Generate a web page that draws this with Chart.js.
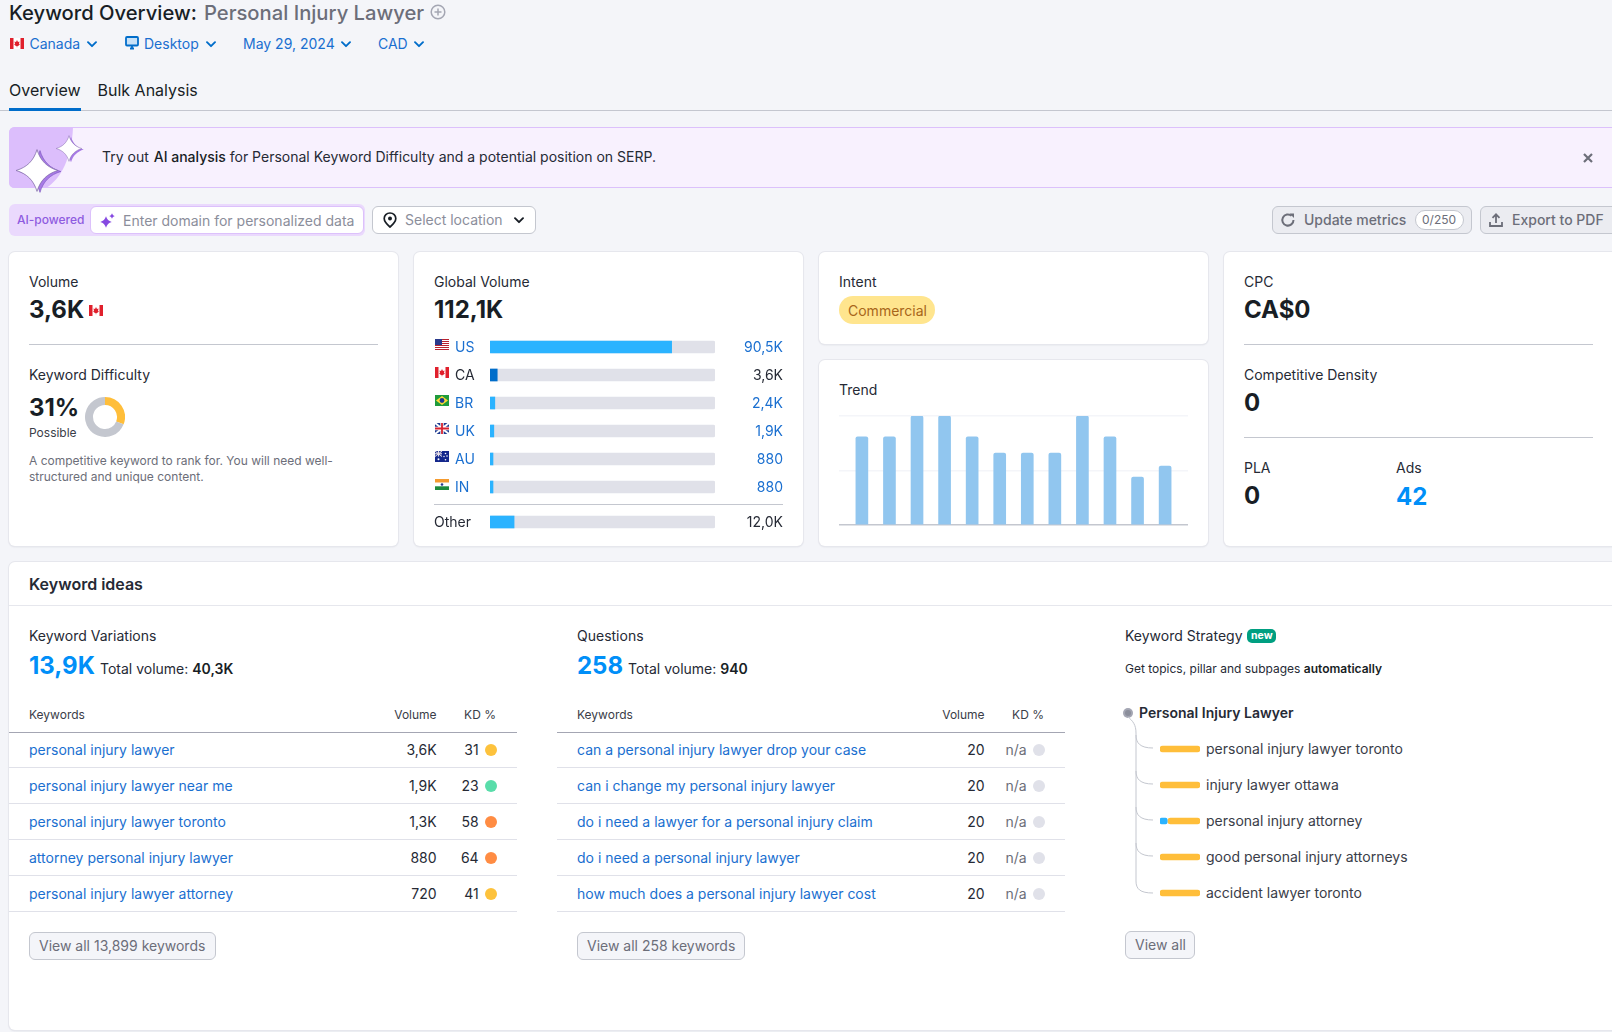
<!DOCTYPE html>
<html>
<head>
<meta charset="utf-8">
<title>Keyword Overview</title>
<script src="https://cdn.jsdelivr.net/npm/chart.js@4"></script>
<style>
html, body { margin: 0; padding: 0; width: 1612px; height: 1032px; overflow: hidden; background: #f4f5f9; }
body { position: relative; font-family: Inter, "Noto Sans", sans-serif; font-size: 14px; color: #262a35; }
.t { position: absolute; white-space: nowrap; line-height: 20px; }
.box { position: absolute; box-sizing: border-box; }
canvas { position: absolute; display: block; }
svg { position: absolute; overflow: visible; }
.link { color: #1a6fd0; }
.gray { color: #6c6e79; }
.big { font-size: 24px; font-weight: 700; line-height: 30px; color: #181e25; }
.card { position: absolute; box-sizing: border-box; background: #fff; border-radius: 6px; box-shadow: 0 0 0 1px #e6e7ed, 0 1px 2px rgba(25,30,60,.12); }
.rule { position: absolute; height: 1px; background: #c4c7cf; }
.btn { position: absolute; box-sizing: border-box; height: 28px; line-height: 26px; border: 1px solid #c4c7cf; border-radius: 6px; background: #f4f5f9; color: #6c6e79; white-space: nowrap; }
.btn.dark { background: #ebecf1; }
.dot { position: absolute; width: 12px; height: 12px; border-radius: 50%; }
</style>
</head>
<body>
<svg width="0" height="0" style="position:absolute">
  <defs>
    <symbol id="chev" viewBox="0 0 10 7"><path d="M1 1.2 L5 5.2 L9 1.2" fill="none" stroke="currentColor" stroke-width="1.9" stroke-linecap="round" stroke-linejoin="round"/></symbol>
    <symbol id="star" viewBox="0 0 40 40"><path d="M20 1 C23 11 29 17 39 20 C29 23 23 29 20 39 C17 29 11 23 1 20 C11 17 17 11 20 1 Z"/></symbol>
  </defs>
</svg>

<!-- header -->
<div class="t" style="left:9px;top:1px;font-size:20.2px;font-weight:500;line-height:24px;color:#181e25">Keyword Overview:</div>
<div class="t gray" style="left:204px;top:1px;font-size:20.2px;font-weight:500;line-height:24px">Personal Injury Lawyer</div>
<svg style="left:430px;top:4px" width="16" height="16"><circle cx="8" cy="8" r="6.8" fill="none" stroke="#a4a6b3" stroke-width="1.5"/><path d="M8 4.5V11.5M4.5 8H11.5" stroke="#a4a6b3" stroke-width="1.5"/></svg>

<div id="filterFlag"></div>
<div class="t link" style="left:29.5px;top:34px">Canada</div>
<svg style="left:87px;top:41px;color:#006dca" width="10" height="7"><use href="#chev"/></svg>
<svg style="left:125px;top:36px" width="14" height="14"><rect x="1" y="1" width="12" height="8.5" rx="1" fill="#c8e1f7" stroke="#006dca" stroke-width="1.8"/><path d="M5 12.5H9M7 10V12.5" stroke="#006dca" stroke-width="1.8"/></svg>
<div class="t link" style="left:144px;top:34px">Desktop</div>
<svg style="left:206px;top:41px;color:#006dca" width="10" height="7"><use href="#chev"/></svg>
<div class="t link" style="left:243px;top:34px">May 29, 2024</div>
<svg style="left:341px;top:41px;color:#006dca" width="10" height="7"><use href="#chev"/></svg>
<div class="t link" style="left:378px;top:34px">CAD</div>
<svg style="left:414px;top:41px;color:#006dca" width="10" height="7"><use href="#chev"/></svg>

<div class="t" style="left:9px;top:80px;font-size:16px;color:#181e25">Overview</div>
<div class="t" style="left:97.5px;top:80px;font-size:16px;color:#181e25">Bulk Analysis</div>
<div class="box" style="left:0;top:110px;width:1612px;height:1px;background:#c4c7cf"></div>
<div class="box" style="left:9px;top:108px;width:72px;height:3px;background:#006dca"></div>

<!-- banner -->
<div class="box" style="left:9px;top:127px;width:1620px;height:61px;background:#f8f1fe;border:1px solid #dcc1fb;border-radius:6px"></div>
<svg style="left:9px;top:127px" width="64" height="61"><path d="M6 0 H64 C63 30 52 52 37 61 H6 Q0 61 0 55 V6 Q0 0 6 0 Z" fill="#dcbefc"/></svg>
<svg style="left:18px;top:148px;fill:#a77ae6;stroke:#6f4cb5;stroke-width:.5" width="44" height="47"><use href="#star" width="44" height="47"/></svg>
<svg style="left:15px;top:147px;fill:#fff;stroke:#7f6aa8;stroke-width:.7" width="44" height="47"><use href="#star" width="44" height="47"/></svg>
<svg style="left:57px;top:136px;fill:#a77ae6" width="28" height="27"><use href="#star" width="28" height="27"/></svg>
<svg style="left:55px;top:135px;fill:#fff;stroke:#7f6aa8;stroke-width:.7" width="28" height="27"><use href="#star" width="28" height="27"/></svg>
<div class="t" style="left:102px;top:147px">Try out <span style="font-weight:500;margin-left:1px;color:#181e25">AI analysis</span> for Personal Keyword Difficulty and a potential position on SERP.</div>
<svg style="left:1583px;top:153px" width="10" height="10"><path d="M1 1L9 9M9 1L1 9" stroke="#6c6e79" stroke-width="2.2"/></svg>

<!-- AI input row -->
<div class="box" style="left:9px;top:204px;width:356px;height:32px;background:#ead9fd;border-radius:6px"></div>
<div class="t" style="left:17px;top:210px;font-size:12px;font-weight:500;color:#8e5be0">AI-powered</div>
<div class="box" style="left:90px;top:206px;width:274px;height:28px;background:#fff;border:1px solid #dcc1fb;border-radius:6px"></div>
<svg style="left:100px;top:213px;fill:#8649e1" width="16" height="16"><use href="#star" x="0" y="3" width="12" height="12"/><use href="#star" x="9" y="0" width="6" height="6"/></svg>
<div class="t" style="left:123px;top:211px;color:#8b8e9b">Enter domain for personalized data</div>
<div class="box" style="left:372px;top:206px;width:164px;height:28px;background:#fff;border:1px solid #c4c7cf;border-radius:6px"></div>
<svg style="left:383px;top:212px" width="14" height="16"><path d="M7 1C3.6 1 1.2 3.5 1.2 6.5C1.2 10 7 15 7 15C7 15 12.8 10 12.8 6.5C12.8 3.5 10.4 1 7 1Z" fill="none" stroke="#181e25" stroke-width="1.7"/><circle cx="7" cy="6.5" r="2" fill="#181e25"/></svg>
<div class="t" style="left:405px;top:210px;color:#8b8e9b">Select location</div>
<svg style="left:514px;top:217px;color:#181e25" width="10" height="7"><use href="#chev"/></svg>

<div class="btn dark" style="left:1272px;top:206px;width:200px"></div>
<svg style="left:1281px;top:213px" width="14" height="14"><path d="M12.5 7A5.6 5.6 0 1 1 10.6 2.8" fill="none" stroke="#6c6e79" stroke-width="2"/><path d="M8.5 0.5H13V5Z" fill="#6c6e79"/></svg>
<div class="t gray" style="left:1304px;top:210px;font-weight:500">Update metrics</div>
<div class="box" style="left:1415px;top:210px;width:49px;height:20px;background:#fff;border:1px solid #c4c7cf;border-radius:10px"></div>
<div class="t gray" style="left:1422px;top:210px;font-size:12px">0/250</div>
<div class="btn dark" style="left:1480px;top:206px;width:150px"></div>
<svg style="left:1489px;top:213px" width="14" height="14"><path d="M7 10V1.5M3.5 4.8L7 1.3L10.5 4.8M1 9V13H13V9" fill="none" stroke="#6c6e79" stroke-width="1.8"/></svg>
<div class="t gray" style="left:1512px;top:210px;font-weight:500">Export to PDF</div>

<!-- volume card -->
<div class="card" style="left:9px;top:252px;width:389px;height:294px"></div>
<div class="t" style="left:29px;top:272px">Volume</div>
<div class="t big" style="left:29px;top:295px">3,6K</div>
<div id="volumeFlag"></div>
<div class="rule" style="left:29px;top:344px;width:349px"></div>
<div class="t" style="left:29px;top:365px">Keyword Difficulty</div>
<div class="t big" style="left:29px;top:393px">31%</div>
<div class="t" style="left:29px;top:423px;font-size:12px;color:#3a3d48">Possible</div>
<canvas id="kdChart" width="40" height="40" style="left:85px;top:397px"></canvas>
<div class="t gray" style="left:29px;top:451px;font-size:12px">A competitive keyword to rank for. You will need well-</div>
<div class="t gray" style="left:29px;top:467px;font-size:12px">structured and unique content.</div>

<!-- global volume card -->
<div class="card" style="left:414px;top:252px;width:389px;height:294px"></div>
<div class="t" style="left:434px;top:272px">Global Volume</div>
<div class="t big" style="left:434px;top:295px">112,1K</div>
<div id="countryFlags"></div>
<canvas id="countryChart" width="328" height="168" style="left:455px;top:333px"></canvas>
<div class="rule" style="left:434px;top:504px;width:349px"></div>
<canvas id="otherChart" width="349" height="28" style="left:434px;top:508px"></canvas>

<!-- intent card -->
<div class="card" style="left:819px;top:252px;width:389px;height:92px"></div>
<div class="t" style="left:839px;top:272px">Intent</div>
<div class="box" style="left:839px;top:296px;width:96px;height:28px;background:#ffe58e;border-radius:14px"></div>
<div class="t" style="left:848px;top:301px;color:#a8651a">Commercial</div>

<!-- trend card -->
<div class="card" style="left:819px;top:360px;width:389px;height:186px"></div>
<div class="t" style="left:839px;top:380px">Trend</div>
<canvas id="trendChart" width="349" height="116" style="left:839px;top:412px"></canvas>

<!-- cpc card -->
<div class="card" style="left:1224px;top:252px;width:400px;height:294px"></div>
<div class="t" style="left:1244px;top:272px">CPC</div>
<div class="t big" style="left:1244px;top:295px">CA$0</div>
<div class="rule" style="left:1244px;top:344px;width:349px"></div>
<div class="t" style="left:1244px;top:365px">Competitive Density</div>
<div class="t big" style="left:1244px;top:388px">0</div>
<div class="rule" style="left:1244px;top:437px;width:349px"></div>
<div class="t" style="left:1244px;top:458px">PLA</div>
<div class="t big" style="left:1244px;top:481px">0</div>
<div class="t" style="left:1396px;top:458px">Ads</div>
<div class="t big" style="left:1396px;top:482px;color:#008ff8">42</div>

<!-- keyword ideas card -->
<div class="card" style="left:9px;top:562px;width:1620px;height:468px"></div>
<div class="t" style="left:29px;top:574px;font-size:16px;font-weight:600">Keyword ideas</div>
<div class="box" style="left:9px;top:605px;width:1603px;height:1px;background:#e6e7ed"></div>

<div class="t" style="left:29px;top:626px">Keyword Variations</div>
<div class="t big" style="left:29px;top:651px;color:#008ff8">13,9K</div>
<div class="t" style="left:100px;top:659px">Total volume: <b style="font-weight:600;color:#181e25">40,3K</b></div>

<div class="t" style="left:577px;top:626px">Questions</div>
<div class="t big" style="left:577px;top:651px;color:#008ff8">258</div>
<div class="t" style="left:628px;top:659px">Total volume: <b style="font-weight:600;color:#181e25">940</b></div>

<div id="variationsTable"></div>
<div id="questionsTable"></div>

<div class="btn" style="left:29px;top:932px;width:187px;padding-left:9px">View all 13,899 keywords</div>
<div class="btn" style="left:577px;top:932px;width:168px;padding-left:9px">View all 258 keywords</div>

<!-- keyword strategy -->
<div class="t" style="left:1125px;top:626px">Keyword Strategy</div>
<div class="box" style="left:1247px;top:629px;width:29px;height:14px;background:#009f81;border-radius:5px"></div>
<div class="t" style="left:1251px;top:626px;font-size:10.5px;font-weight:700;color:#fff">new</div>
<div class="t" style="left:1125px;top:659px;font-size:12px">Get topics, pillar and subpages <b style="font-weight:600;color:#181e25">automatically</b></div>
<svg style="left:1120px;top:705px" width="60" height="200">
  <circle cx="8" cy="8" r="5" fill="#a4a6b3"/><circle cx="8" cy="8" r="3" fill="#8b8e9b"/>
  <path d="M8 12C13 16 16 20 16 28V176C16 184 20 188 33 188M16 30C16 38 20 43 33 43M16 66C16 74 20 79 33 79M16 102C16 110 20 115 33 115M16 138C16 146 20 151 33 151" fill="none" stroke="#c4c7cf" stroke-width="1"/>
</svg>
<div class="t" style="left:1139px;top:703px;font-weight:600">Personal Injury Lawyer</div>
<canvas id="intentChart" width="40" height="180" style="left:1160px;top:731px"></canvas>
<div id="strategyLabels"></div>
<div class="btn" style="left:1125px;top:931px;width:70px;padding-left:9px">View all</div>

<script>
// global volume
const countryCodes = ['US', 'CA', 'BR', 'UK', 'AU', 'IN'];
const countryVolumes = [90500, 3600, 2400, 1900, 880, 880];
const countryVolumeLabels = ['90,5K', '3,6K', '2,4K', '1,9K', '880', '880'];
const otherVolume = [12000];
const otherVolumeLabel = ['12,0K'];
const globalVolume = 112100;
const homeCountry = 'CA';

// trend bars have no axis labels in the picture, share of the peak month
const trendValues = [0.81, 0.81, 1, 1, 0.81, 0.66, 0.66, 0.66, 1, 0.81, 0.44, 0.54];

const keywordDifficulty = [31, 69];

const variationKeywords = ['personal injury lawyer', 'personal injury lawyer near me', 'personal injury lawyer toronto', 'attorney personal injury lawyer', 'personal injury lawyer attorney'];
const variationVolumes = ['3,6K', '1,9K', '1,3K', '880', '720'];
const variationKd = ['31', '23', '58', '64', '41'];

const questionKeywords = ['can a personal injury lawyer drop your case', 'can i change my personal injury lawyer', 'do i need a lawyer for a personal injury claim', 'do i need a personal injury lawyer', 'how much does a personal injury lawyer cost'];
const questionVolumes = ['20', '20', '20', '20', '20'];
const questionKd = ['n/a', 'n/a', 'n/a', 'n/a', 'n/a'];

const strategyKeywords = ['personal injury lawyer toronto', 'injury lawyer ottawa', 'personal injury attorney', 'good personal injury attorneys', 'accident lawyer toronto'];
const strategyInformational = [0, 0, 18, 0, 0];
const strategyCommercial = [100, 100, 82, 100, 100];

const LINK = '#1a6fd0';
const DARK = '#262a35';
const BAR_BLUE = '#2bb3ff';
const HOME_BLUE = '#006dca';
const TRACK = '#e0e1e9';

Chart.defaults.font.family = 'Inter';
Chart.defaults.font.size = 14;
Chart.defaults.animation = false;
Chart.defaults.responsive = false;
Chart.defaults.devicePixelRatio = 1;
Chart.defaults.plugins.legend.display = false;
Chart.defaults.plugins.tooltip.enabled = false;

function flagSvg(code, x, y) {
    const w = 14, h = 11;
    let art = '';
    if (code === 'CA') {
        art = `<rect width="14" height="11" fill="#fff"/><rect width="3.5" height="11" fill="#e0202c"/><rect x="10.5" width="3.5" height="11" fill="#e0202c"/><path d="M7 2L8 4L9.5 3.6L9 6L10 6.4L8 8H7.3V9.2H6.7V8H6L4 6.4L5 6L4.5 3.6L6 4Z" fill="#e0202c"/>`;
    }
    else if (code === 'US') {
        art = `<rect width="14" height="11" fill="#fff"/>`;
        for (let i = 0; i < 6; i++) {
            art += `<rect y="${i * 2}" width="14" height="1" fill="#b8232f"/>`;
        }
        art += `<rect width="7" height="6" fill="#2a3a8c"/>`;
    }
    else if (code === 'BR') {
        art = `<rect width="14" height="11" fill="#1f9b3c"/><path d="M7 1L13 5.5L7 10L1 5.5Z" fill="#fdd835"/><circle cx="7" cy="5.5" r="2.4" fill="#1c3a8f"/>`;
    }
    else if (code === 'UK') {
        art = `<rect width="14" height="11" fill="#1d3a8f"/><path d="M0 0L14 11M14 0L0 11" stroke="#fff" stroke-width="2"/><path d="M7 0V11M0 5.5H14" stroke="#fff" stroke-width="3.4"/><path d="M7 0V11M0 5.5H14" stroke="#d8232f" stroke-width="1.8"/>`;
    }
    else if (code === 'AU') {
        art = `<rect width="14" height="11" fill="#14288c"/><rect width="7" height="5.5" fill="#2c3f98"/><path d="M0 0L7 5.5M7 0L0 5.5M3.5 0V5.5M0 2.75H7" stroke="#e8dfe6" stroke-width="1"/><circle cx="3.5" cy="8.3" r="1" fill="#fff"/><circle cx="10.5" cy="2.5" r=".8" fill="#fff"/><circle cx="12" cy="5" r=".8" fill="#fff"/><circle cx="9" cy="5.5" r=".7" fill="#fff"/><circle cx="10.5" cy="8.8" r=".8" fill="#fff"/>`;
    }
    else if (code === 'IN') {
        art = `<rect width="14" height="3.7" fill="#f59b2f"/><rect y="3.7" width="14" height="3.6" fill="#fff"/><rect y="7.3" width="14" height="3.7" fill="#1f8a3c"/><circle cx="7" cy="5.5" r="1.3" fill="#2a3a8c"/>`;
    }
    return `<svg style="left:${x}px;top:${y}px" width="${w}" height="${h}" viewBox="0 0 14 11">${art}</svg>`;
}

document.getElementById('filterFlag').innerHTML = flagSvg('CA', 10, 38);
document.getElementById('volumeFlag').innerHTML = flagSvg('CA', 89, 305);
document.getElementById('countryFlags').innerHTML = countryCodes.map((c, i) => flagSvg(c, 435, 339 + i * 28)).join('');

// table rows are text, the only marks in them are the KD status dots
function kdColor(kd) {
    if (kd === 'n/a') return '#e0e1e9';
    const n = Number(kd);
    if (n < 30) return '#59ddaa';
    if (n < 50) return '#fdc23c';
    return '#ff8c43';
}

function renderTable(id, left, keywords, volumes, kds) {
    const textX = left + 20;
    const volRight = 1612 - (left + 427.6);
    const kdRight = 1612 - (left + 487);
    const numRight = 1612 - (left + 469.6);
    let html = `<div class="t" style="left:${textX}px;top:705px;font-size:12px;color:#3a3d48">Keywords</div>`;
    html += `<div class="t" style="right:${volRight}px;top:705px;font-size:12px;color:#3a3d48">Volume</div>`;
    html += `<div class="t" style="right:${kdRight}px;top:705px;font-size:12px;color:#3a3d48">KD %</div>`;
    html += `<div class="box" style="left:${left}px;top:732px;width:508px;height:1px;background:#a4a6b3"></div>`;
    keywords.forEach((k, i) => {
        const cy = 750 + i * 36;
        html += `<div class="t link" style="left:${textX}px;top:${cy - 10}px">${k}</div>`;
        html += `<div class="t" style="right:${volRight}px;top:${cy - 10}px">${volumes[i]}</div>`;
        html += `<div class="t${kds[i] === 'n/a' ? ' gray' : ''}" style="right:${numRight}px;top:${cy - 10}px">${kds[i]}</div>`;
        html += `<div class="dot" style="left:${left + 476}px;top:${cy - 6}px;background:${kdColor(kds[i])}"></div>`;
        html += `<div class="box" style="left:${left}px;top:${cy + 17}px;width:508px;height:1px;background:#e0e1e9"></div>`;
    });
    document.getElementById(id).innerHTML = html;
}

renderTable('variationsTable', 9, variationKeywords, variationVolumes, variationKd);
renderTable('questionsTable', 557, questionKeywords, questionVolumes, questionKd);

document.getElementById('strategyLabels').innerHTML = strategyKeywords.map((k, i) =>
    `<div class="t" style="left:1206px;top:${739 + i * 36}px;color:#3a3d48">${k}</div>`).join('');

function volumeChart(id, labels, values, valueLabels, leftWidth) {
    const labelColor = (c) => (labels[c.index] === homeCountry || labels[c.index] === 'Other') ? DARK : LINK;
    // tick labels must not eat into the rows, the canvas is cut to the row height
    const fitAxis = (width) => (scale) => {
        scale.width = width;
        scale.paddingTop = 0;
        scale.paddingBottom = 0;
    };
    return new Chart(document.getElementById(id), {
        type: 'bar',
        data: {
            labels: labels,
            datasets: [
                {
                    data: values,
                    backgroundColor: labels.map((l) => l === homeCountry ? HOME_BLUE : BAR_BLUE),
                    grouped: false,
                    order: 1,
                    barThickness: 12,
                    minBarLength: 3
                },
                {
                    data: labels.map(() => globalVolume),
                    backgroundColor: TRACK,
                    grouped: false,
                    order: 2,
                    barThickness: 12,
                    borderRadius: 2,
                    borderSkipped: false
                }
            ]
        },
        options: {
            indexAxis: 'y',
            layout: { padding: 0 },
            scales: {
                x: { display: false, min: 0, max: globalVolume },
                y: {
                    position: 'left',
                    grid: { display: false },
                    border: { display: false },
                    ticks: { crossAlign: 'far', padding: 0, labelOffset: 1, color: labelColor },
                    afterFit: fitAxis(leftWidth)
                },
                y1: {
                    type: 'category',
                    axis: 'y',
                    position: 'right',
                    offset: true,
                    labels: valueLabels,
                    grid: { display: false },
                    border: { display: false },
                    ticks: { crossAlign: 'far', padding: 0, labelOffset: 1, color: labelColor },
                    afterFit: fitAxis(68)
                }
            }
        }
    });
}

volumeChart('countryChart', countryCodes, countryVolumes, countryVolumeLabels, 35);
volumeChart('otherChart', ['Other'], otherVolume, otherVolumeLabel, 56);

new Chart(document.getElementById('kdChart'), {
    type: 'doughnut',
    data: {
        labels: ['Difficulty', 'Rest'],
        datasets: [{ data: keywordDifficulty, backgroundColor: ['#ffbe3a', '#c4c7cf'], borderWidth: 0 }]
    },
    options: { cutout: '60%', layout: { padding: 0 } }
});

new Chart(document.getElementById('trendChart'), {
    type: 'bar',
    data: {
        datasets: [{
            data: trendValues.map((v, i) => ({ x: i, y: v })),
            backgroundColor: '#91c6ef',
            barThickness: 12,
            borderRadius: 2
        }]
    },
    options: {
        layout: { padding: { top: 4, bottom: 3 } },
        scales: {
            x: { type: 'linear', display: false, offset: false, min: -0.83, max: 11.83 },
            y: {
                min: 0,
                max: 1,
                grid: {
                    drawTicks: false,
                    lineWidth: 1.5,
                    color: (c) => c.tick.value === 0 ? '#c4c7cf' : '#f4f5f9'
                },
                border: { display: false },
                ticks: { display: false, stepSize: 0.5 },
                afterFit(scale) { scale.width = 0; }
            }
        }
    }
});

new Chart(document.getElementById('intentChart'), {
    type: 'bar',
    data: {
        labels: strategyKeywords,
        datasets: [
            {
                data: strategyInformational.map((v) => v > 0 ? [0, v] : null),
                backgroundColor: BAR_BLUE,
                grouped: false,
                barThickness: 6,
                borderRadius: 2,
                borderSkipped: false
            },
            {
                data: strategyCommercial.map((v) => [100 - v + (v < 100 ? 1.5 : 0), 100]),
                backgroundColor: '#ffbe3a',
                grouped: false,
                barThickness: 6,
                borderRadius: 3,
                borderSkipped: false
            }
        ]
    },
    options: {
        indexAxis: 'y',
        layout: { padding: 0 },
        scales: {
            x: { display: false, min: 0, max: 100 },
            y: { display: false }
        }
    }
});
</script>
</body>
</html>
